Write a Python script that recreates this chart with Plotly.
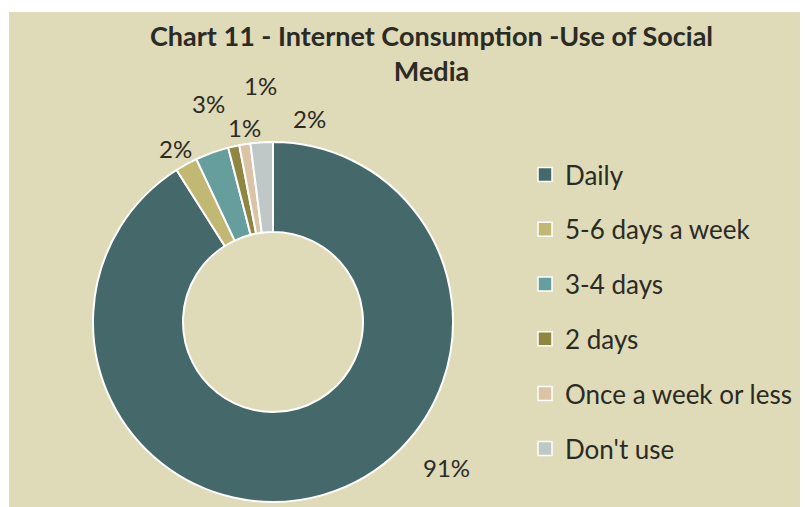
import plotly.graph_objects as go

categories = ["Daily", "5-6 days a week", "3-4 days", "2 days", "Once a week or less", "Don't use"]
values = [91, 2, 3, 1, 1, 2]
colors = ["#45696a", "#c1b873", "#659e9d", "#8e8641", "#dbc3a5", "#bfc8c6"]
label_pos = [(446, 467), (175, 148), (209, 104), (244, 127), (260, 85), (309, 119)]

# page body has an 8px margin; work in window pixels and convert
OFF = 8
W, H = 800, 500
BG = "#dfdab7"
TXT = "#2b2b25"
FONT = "Lato"


def px(x):
    return (x - OFF) / W


def py(y):
    return 1 - (y - OFF) / H


fig = go.Figure()
fig.add_trace(go.Pie(
    labels=categories, values=values, hole=0.5, sort=False, direction="clockwise",
    rotation=0, marker=dict(colors=colors, line=dict(color="white", width=2)),
    textinfo="none", showlegend=False, hoverinfo="label+percent",
    domain=dict(x=[px(93), px(453)], y=[py(502), py(142)]),
))

for i, (cat, col) in enumerate(zip(categories, colors)):
    fig.add_trace(go.Scatter(
        x=[None], y=[None], mode="markers", name=cat, legendgroup=str(i),
        marker=dict(symbol="square", size=14, color=col, line=dict(color="white", width=1.5)),
    ))

total = sum(values)
for v, (lx, ly) in zip(values, label_pos):
    fig.add_annotation(
        x=px(lx), y=py(ly), xref="paper", yref="paper",
        text=f"{round(100 * v / total)}%", showarrow=False,
        font=dict(family=FONT, size=24, color=TXT), xanchor="center", yanchor="middle",
    )

fig.add_annotation(
    x=px(431), y=py(53), xref="paper", yref="paper", showarrow=False,
    text="<b>Chart 11 - Internet Consumption -Use of Social<br>Media</b>",
    font=dict(family=FONT, size=27, color=TXT), xanchor="center", yanchor="middle",
)

fig.add_shape(type="rect", xref="paper", yref="paper", x0=px(9), x1=1.02, y0=-0.02, y1=py(12),
              fillcolor=BG, line=dict(width=0), layer="below")

fig.update_layout(
    width=W, height=H, margin=dict(l=0, r=0, t=0, b=0),
    paper_bgcolor="white", plot_bgcolor="rgba(0,0,0,0)",
    xaxis=dict(visible=False), yaxis=dict(visible=False),
    legend=dict(x=px(525), y=py(151), xanchor="left", yanchor="top",
                font=dict(family=FONT, size=26, color=TXT), tracegroupgap=18,
                bgcolor="rgba(0,0,0,0)"),
)

fig.write_html("out.html")
